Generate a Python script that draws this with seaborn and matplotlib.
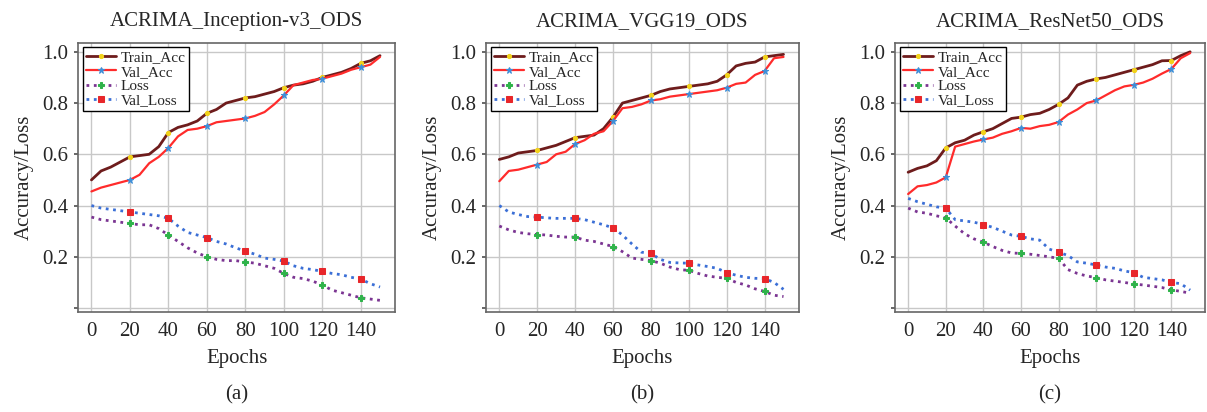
import matplotlib.pyplot as plt
import numpy as np
import pandas as pd
import seaborn as sns

sns.set_theme(style="whitegrid")
plt.rcParams["font.family"] = ["Liberation Serif", "DejaVu Serif"]

epochs = list(range(0, 151, 5))

# (a) Inception-v3
a_train_acc = [0.50, 0.535, 0.55, 0.57, 0.59, 0.595, 0.60, 0.63, 0.685, 0.705, 0.715, 0.73, 0.76, 0.775,
               0.80, 0.81, 0.82, 0.825, 0.835, 0.845, 0.86, 0.87, 0.875, 0.885, 0.90, 0.91, 0.92, 0.935,
               0.955, 0.965, 0.985]
a_val_acc = [0.455, 0.47, 0.48, 0.49, 0.50, 0.52, 0.565, 0.59, 0.625, 0.67, 0.695, 0.70, 0.71, 0.725,
             0.73, 0.735, 0.74, 0.75, 0.765, 0.795, 0.83, 0.87, 0.88, 0.89, 0.895, 0.905, 0.915, 0.93,
             0.94, 0.95, 0.98]
a_loss = [0.355, 0.345, 0.34, 0.335, 0.33, 0.325, 0.325, 0.31, 0.285, 0.26, 0.235, 0.215, 0.20, 0.19,
          0.185, 0.185, 0.18, 0.175, 0.165, 0.155, 0.135, 0.12, 0.115, 0.105, 0.09, 0.07, 0.06, 0.05,
          0.04, 0.035, 0.03]
a_val_loss = [0.40, 0.39, 0.385, 0.38, 0.375, 0.37, 0.365, 0.36, 0.35, 0.32, 0.295, 0.285, 0.275, 0.26,
              0.25, 0.235, 0.222, 0.21, 0.195, 0.19, 0.183, 0.165, 0.155, 0.15, 0.143, 0.135, 0.13, 0.12,
              0.113, 0.095, 0.082]

# (b) VGG19
b_train_acc = [0.58, 0.59, 0.605, 0.61, 0.615, 0.625, 0.635, 0.65, 0.665, 0.67, 0.675, 0.70, 0.745, 0.80,
               0.81, 0.82, 0.83, 0.845, 0.855, 0.86, 0.865, 0.87, 0.875, 0.885, 0.91, 0.945, 0.955, 0.96,
               0.98, 0.985, 0.99]
b_val_acc = [0.495, 0.535, 0.54, 0.55, 0.56, 0.57, 0.60, 0.61, 0.64, 0.655, 0.68, 0.69, 0.73, 0.78,
             0.785, 0.795, 0.81, 0.815, 0.825, 0.83, 0.835, 0.84, 0.845, 0.85, 0.86, 0.875, 0.88, 0.91,
             0.925, 0.975, 0.98]
b_loss = [0.32, 0.305, 0.295, 0.29, 0.287, 0.285, 0.28, 0.277, 0.277, 0.265, 0.26, 0.25, 0.24, 0.22,
          0.195, 0.19, 0.185, 0.175, 0.16, 0.15, 0.147, 0.135, 0.125, 0.12, 0.116, 0.10, 0.09, 0.075,
          0.065, 0.05, 0.045]
b_val_loss = [0.40, 0.375, 0.365, 0.357, 0.355, 0.352, 0.35, 0.35, 0.35, 0.345, 0.335, 0.325, 0.313, 0.285,
              0.25, 0.218, 0.213, 0.19, 0.178, 0.176, 0.175, 0.168, 0.162, 0.155, 0.138, 0.128, 0.12, 0.116,
              0.115, 0.10, 0.073]

# (c) ResNet50
c_train_acc = [0.53, 0.545, 0.555, 0.575, 0.625, 0.645, 0.655, 0.675, 0.688, 0.70, 0.72, 0.74, 0.745, 0.755,
               0.76, 0.775, 0.795, 0.82, 0.87, 0.885, 0.894, 0.90, 0.91, 0.92, 0.93, 0.94, 0.95, 0.965,
               0.966, 0.985, 1.0]
c_val_acc = [0.445, 0.475, 0.48, 0.49, 0.51, 0.63, 0.64, 0.65, 0.658, 0.665, 0.68, 0.69, 0.703, 0.70,
             0.71, 0.715, 0.726, 0.755, 0.775, 0.80, 0.81, 0.83, 0.85, 0.865, 0.871, 0.88, 0.895, 0.915,
             0.933, 0.975, 0.995]
c_loss = [0.39, 0.375, 0.37, 0.36, 0.352, 0.32, 0.29, 0.27, 0.257, 0.24, 0.225, 0.215, 0.213, 0.21,
          0.205, 0.20, 0.194, 0.15, 0.135, 0.125, 0.119, 0.11, 0.105, 0.10, 0.094, 0.09, 0.085, 0.08,
          0.071, 0.065, 0.058]
c_val_loss = [0.428, 0.415, 0.405, 0.395, 0.39, 0.345, 0.34, 0.335, 0.326, 0.315, 0.30, 0.285, 0.28, 0.27,
              0.265, 0.23, 0.218, 0.205, 0.18, 0.175, 0.168, 0.16, 0.155, 0.145, 0.138, 0.12, 0.115, 0.11,
              0.10, 0.095, 0.07]

titles = ["ACRIMA_Inception-v3_ODS", "ACRIMA_VGG19_ODS", "ACRIMA_ResNet50_ODS"]
captions = ["(a)", "(b)", "(c)"]
panels = [
    (a_train_acc, a_val_acc, a_loss, a_val_loss),
    (b_train_acc, b_val_acc, b_loss, b_val_loss),
    (c_train_acc, c_val_acc, c_loss, c_val_loss),
]

# name, line colour, linestyle, width, marker, marker colour, marker size
styles = [
    ("Train_Acc", "#6e1c1c", "-", 2.0, "o", "#f2d21b", 3),
    ("Val_Acc", "#ff2b2b", "-", 1.6, "*", "#3d8fd9", 5),
    ("Loss", "#7b3592", ":", 2.0, "P", "#2fb34a", 4),
    ("Val_Loss", "#3b6fd6", ":", 2.0, "s", "#e8262a", 4),
]

fig = plt.figure(figsize=(12.07, 4.12), dpi=100)
lefts = [0.0646, 0.4027, 0.7415]
widths = [0.263, 0.259, 0.257]

for i, (series, title, cap) in enumerate(zip(panels, titles, captions)):
    ax = fig.add_axes([lefts[i], 0.243, widths[i], 0.653])
    for vals, (name, col, ls, lw, mk, mcol, ms) in zip(series, styles):
        sns.lineplot(x=epochs, y=vals, ax=ax, color=col, linestyle=ls, linewidth=lw,
                     marker=mk, markersize=ms, markerfacecolor=mcol, markeredgecolor=mcol,
                     markevery=slice(4, None, 4), label=name)
    ax.set_xlim(-7, 158)
    ax.set_ylim(-0.015, 1.035)
    ax.set_xticks(range(0, 141, 20))
    ax.set_yticks([0.0, 0.2, 0.4, 0.6, 0.8, 1.0])
    ax.set_yticklabels(["", "0.2", "0.4", "0.6", "0.8", "1.0"])
    ax.tick_params(axis="both", labelsize=15, length=3, color="#555555", pad=4)
    ax.tick_params(axis="y", left=True)
    ax.grid(True, color="#c8c8c8", linewidth=1.0)
    for sp in ax.spines.values():
        sp.set_color("#666666")
        sp.set_linewidth(1.2)
    ax.set_title(title, fontsize=15, pad=12)
    ax.set_xlabel("Epochs", fontsize=15, labelpad=6)
    ax.set_ylabel("Accuracy/Loss", fontsize=15, labelpad=6)
    leg = ax.legend(loc="upper left", fontsize=11, frameon=True, fancybox=False,
                    edgecolor="black", framealpha=1, borderpad=0.2, labelspacing=0.05,
                    handlelength=2.0, handletextpad=0.3, borderaxespad=0.3)
    leg.get_frame().set_linewidth(1.0)
    fig.text(lefts[i] + widths[i] / 2, 0.03, cap, ha="center", fontsize=15)

plt.savefig("out.png", dpi=100)
